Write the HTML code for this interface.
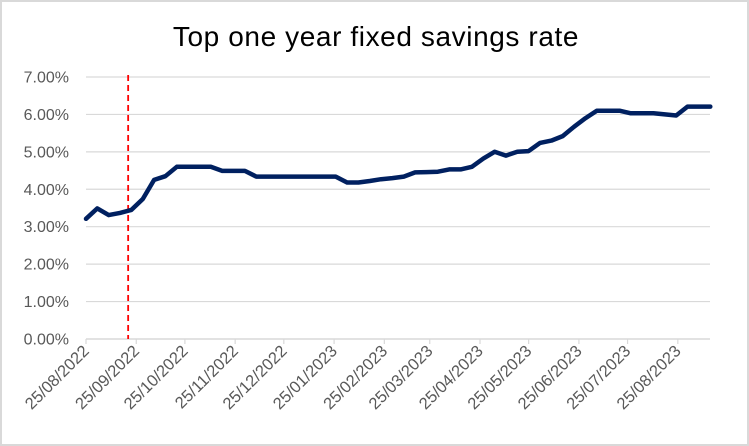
<!DOCTYPE html>
<html><head><meta charset="utf-8"><style>
body{margin:0;background:#fff;}
svg{display:block;font-family:"Liberation Sans",Arial,sans-serif;}
</style></head><body>
<svg id="chart" width="749" height="446">
<rect x="1" y="1" width="747" height="444" fill="#fff" stroke="#d9d9d9" stroke-width="2"/>
<text x="376" y="46" text-anchor="middle" font-size="28" letter-spacing="0.6" fill="#000">Top one year fixed savings rate</text>
<g id="grid"></g>
<g id="yax"></g>
<g id="xax"></g>
<g id="marks"></g>
</svg>
<script>
const startDate = "2022-08-25";
const rates = [3.21,3.49,3.31,3.37,3.45,3.74,4.25,4.35,4.60,4.60,4.60,4.60,4.49,4.49,4.49,4.34,4.34,4.34,4.34,4.34,4.34,4.34,4.34,4.18,4.18,4.22,4.27,4.30,4.34,4.45,4.46,4.47,4.53,4.53,4.60,4.82,5.00,4.90,5.00,5.02,5.24,5.30,5.42,5.67,5.90,6.10,6.10,6.10,6.03,6.03,6.03,6.00,5.97,6.21,6.21,6.21];
const yTicks = [0,1,2,3,4,5,6,7];
const xTickLabels = ["25/08/2022","25/09/2022","25/10/2022","25/11/2022","25/12/2022","25/01/2023","25/02/2023","25/03/2023","25/04/2023","25/05/2023","25/06/2023","25/07/2023","25/08/2023"];
const markerDate = "2022-09-20";

const NS="http://www.w3.org/2000/svg";
const X0=86,X1=710,Y0=339,PXDAY=11.35/7,PXPCT=37.43;
const t0=Date.parse(startDate+"T00:00:00Z");
function dayOf(s){return (Date.parse(s+"T00:00:00Z")-t0)/86400000;}
function xScale(d){return X0+d*PXDAY;}
function yScale(v){return Y0-v*PXPCT;}
function mk(tag,attrs,parent){const e=document.createElementNS(NS,tag);for(const k in attrs)e.setAttribute(k,attrs[k]);parent.appendChild(e);return e;}
const grid=document.getElementById('grid'),yax=document.getElementById('yax'),xax=document.getElementById('xax'),marks=document.getElementById('marks');
yTicks.forEach(v=>{
  const y=yScale(v);
  const l=mk('line',{x1:X0,x2:X1,y1:y,y2:y,stroke:'#d9d9d9','stroke-width':v===0?1.5:1.2},grid);
  
  
  const t=mk('text',{x:69,y:y+5.5,'text-anchor':'end','font-size':16,fill:'#595959'},yax);
  t.textContent=v.toFixed(2)+'%';
  
  
});
xTickLabels.forEach(s=>{
  const p=s.split('/');const x=xScale(dayOf(p[2]+'-'+p[1]+'-'+p[0]));
  const tk=mk('line',{x1:x,x2:x,y1:Y0,y2:Y0+5,stroke:'#d9d9d9','stroke-width':1.2},xax);
  
  
  const t=mk('text',{x:0,y:0,'text-anchor':'end','font-size':16.5,fill:'#595959',transform:`translate(${x+4},${Y0+13}) rotate(-45)`},xax);
  t.textContent=s;
  
  
});
const mx=xScale(dayOf(markerDate));
const ml=mk('line',{x1:mx,x2:mx,y1:75,y2:Y0,stroke:'#ff0000','stroke-width':1.8,'stroke-dasharray':'6,4'},marks);


const pts=rates.map((v,i)=>xScale(i*7).toFixed(1)+','+yScale(v).toFixed(1)).join(' ');
const pl=mk('polyline',{points:pts,fill:'none',stroke:'#002060','stroke-width':4.5,'stroke-linejoin':'round','stroke-linecap':'round'},marks);


</script>
</body></html>
